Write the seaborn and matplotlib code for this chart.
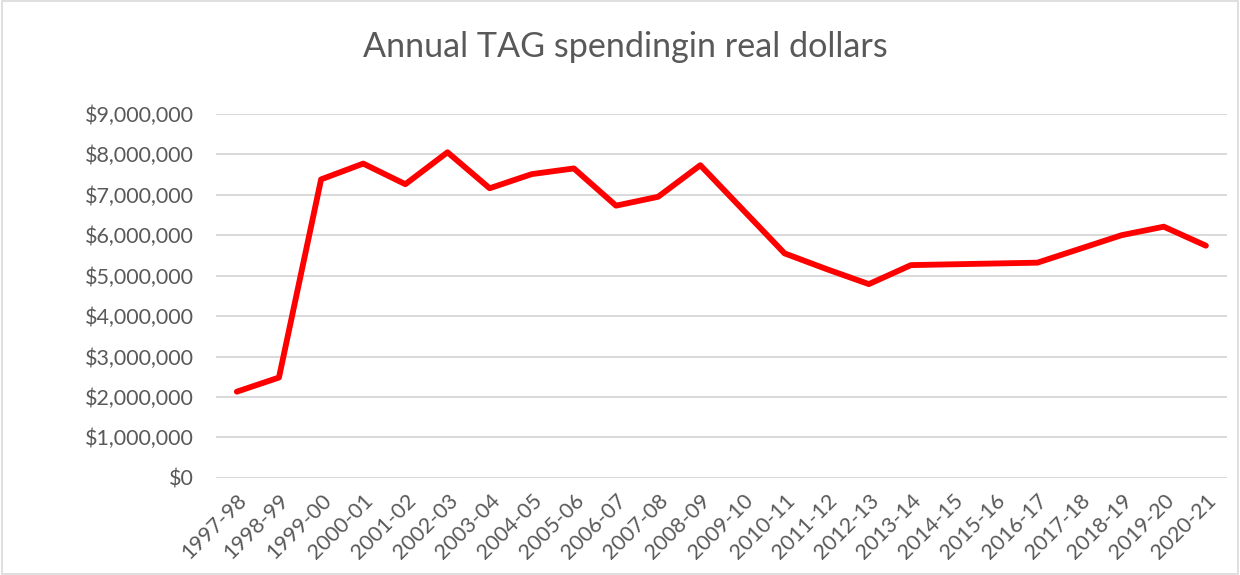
import pandas as pd
import matplotlib
matplotlib.use("Agg")
import matplotlib.pyplot as plt
import matplotlib.ticker as mticker
import seaborn as sns

# Annual TAG spending in real dollars
seasons = ["1997-98", "1998-99", "1999-00", "2000-01", "2001-02", "2002-03",
           "2003-04", "2004-05", "2005-06", "2006-07", "2007-08", "2008-09",
           "2009-10", "2010-11", "2011-12", "2012-13", "2013-14", "2014-15",
           "2015-16", "2016-17", "2017-18", "2018-19", "2019-20", "2020-21"]
spending = [2130000, 2480000, 7380000, 7770000, 7260000, 8050000,
            7160000, 7510000, 7650000, 6730000, 6950000, 7730000,
            6640000, 5550000, 5160000, 4790000, 5260000, 5280000,
            5300000, 5320000, 5660000, 6000000, 6210000, 5740000]
yticks = list(range(0, 9000001, 1000000))

df = pd.DataFrame({"season": seasons, "spending": spending})

sns.set_style("white")
plt.rcParams["font.family"] = ["Lato", "DejaVu Sans"]
text_grey = "#595959"

fig = plt.figure(figsize=(12.4, 5.75), dpi=100)
ax = fig.add_axes([0.174, 0.169, 0.8155, 0.633])

sns.lineplot(data=df, x="season", y="spending", color="#ff0000",
             linewidth=4.2, ax=ax, sort=False)

ax.set_xlim(-0.5, len(seasons) - 0.5)
ax.set_ylim(0, 9000000)
ax.set_yticks(yticks)
ax.yaxis.set_major_formatter(mticker.FuncFormatter(lambda v, p: "${:,.0f}".format(v)))
ax.grid(axis="y", color="#d9d9d9", linewidth=1.4)
ax.set_axisbelow(True)
for s in ax.spines.values():
    s.set_visible(False)
ax.tick_params(axis="both", length=0, colors=text_grey, labelsize=15.5)
ax.tick_params(axis="y", pad=16)
ax.tick_params(axis="x", pad=9)
plt.setp(ax.get_xticklabels(), rotation=45, ha="right", rotation_mode="anchor")
ax.set_xlabel("")
ax.set_ylabel("")

fig.text(0.504, 0.918, "Annual TAG spendingin real dollars", ha="center", va="center",
         fontsize=24.6, color=text_grey)

# light border round the chart area
fig.patches.append(plt.Rectangle((0.002, 0.002), 0.996, 0.996, transform=fig.transFigure,
                                 fill=False, edgecolor="#d9d9d9", linewidth=1.2))

fig.savefig("out.png", dpi=100)
